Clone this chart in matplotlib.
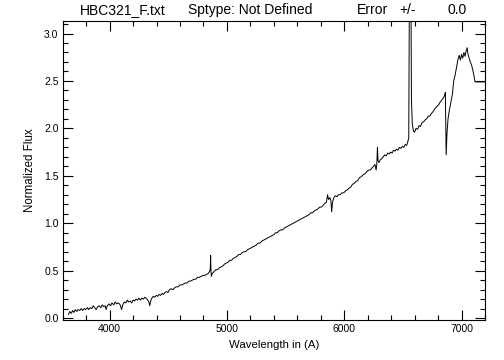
"""Normalized spectrum of HBC321, drawn in the style of an IDL plot."""

import matplotlib

matplotlib.use("Agg")
import matplotlib.pyplot as plt
from matplotlib.ticker import MultipleLocator

# ---------------------------------------------------------------------------
# Data, split into three spectral segments
# ---------------------------------------------------------------------------

blue_wl = [
    3650, 3660, 3672, 3685, 3695, 3708, 3720, 3732, 3745, 3758,
    3770, 3783, 3796, 3810, 3822, 3835, 3848, 3860, 3872, 3885,
    3898, 3910, 3925, 3938, 3950, 3962, 3970, 3980, 3995, 4008,
    4020, 4035, 4048, 4060, 4075, 4090, 4102, 4112, 4125, 4138,
    4150, 4162, 4175, 4188, 4200, 4212, 4225, 4238, 4250, 4262,
    4275, 4288, 4300, 4312, 4325, 4335, 4342, 4350, 4360, 4372,
    4385, 4398, 4410, 4422, 4435, 4448, 4460, 4472, 4485, 4498,
    4510, 4525, 4540, 4555, 4570, 4585, 4600, 4615, 4630, 4645,
    4660, 4675, 4690, 4705, 4720, 4735, 4750, 4765, 4780, 4795,
    4810, 4825, 4840, 4852, 4858, 4861, 4864, 4867, 4875,
]
blue_flux = [
    0.04, 0.07, 0.05, 0.08, 0.06, 0.09, 0.07, 0.09, 0.08, 0.10,
    0.08, 0.10, 0.09, 0.11, 0.09, 0.11, 0.10, 0.13, 0.11, 0.09,
    0.12, 0.13, 0.11, 0.14, 0.12, 0.13, 0.09, 0.13, 0.15, 0.13,
    0.16, 0.14, 0.17, 0.15, 0.16, 0.14, 0.09, 0.14, 0.17, 0.16,
    0.19, 0.17, 0.18, 0.16, 0.19, 0.18, 0.20, 0.19, 0.21, 0.19,
    0.21, 0.20, 0.22, 0.21, 0.19, 0.17, 0.13, 0.18, 0.21, 0.23,
    0.22, 0.24, 0.23, 0.25, 0.24, 0.26, 0.25, 0.27, 0.28, 0.27,
    0.30, 0.31, 0.30, 0.32, 0.33, 0.33, 0.35, 0.35, 0.36, 0.37,
    0.37, 0.39, 0.39, 0.40, 0.41, 0.41, 0.43, 0.43, 0.44, 0.45,
    0.45, 0.46, 0.47, 0.49, 0.52, 0.66, 0.50, 0.44, 0.47,
]

mid_wl = [
    4890, 4905, 4920, 4935, 4950, 4965, 4980, 4995, 5010, 5025,
    5040, 5055, 5070, 5085, 5100, 5115, 5130, 5145, 5160, 5175,
    5190, 5205, 5220, 5235, 5250, 5265, 5280, 5295, 5310, 5325,
    5340, 5355, 5370, 5385, 5400, 5415, 5430, 5445, 5460, 5475,
    5490, 5505, 5520, 5535, 5550, 5565, 5580, 5595, 5610, 5625,
    5640, 5655, 5670, 5685, 5700, 5715, 5730, 5745, 5760, 5775,
    5790, 5805, 5820, 5835, 5848, 5858, 5866, 5878, 5886, 5893,
    5900, 5912, 5925, 5938, 5950, 5965, 5980, 5995, 6010, 6025,
    6040, 6055, 6070, 6085, 6100, 6115, 6130, 6145, 6160, 6175,
    6190, 6205, 6220, 6235, 6250, 6262, 6272, 6278, 6283, 6288,
]
mid_flux = [
    0.49, 0.51, 0.51, 0.53, 0.54, 0.55, 0.57, 0.58, 0.59, 0.61,
    0.61, 0.63, 0.64, 0.65, 0.67, 0.67, 0.69, 0.70, 0.70, 0.72,
    0.73, 0.74, 0.75, 0.76, 0.77, 0.79, 0.79, 0.81, 0.82, 0.83,
    0.84, 0.85, 0.86, 0.87, 0.88, 0.90, 0.90, 0.92, 0.93, 0.93,
    0.95, 0.96, 0.97, 0.98, 0.99, 1.00, 1.01, 1.02, 1.03, 1.04,
    1.05, 1.06, 1.07, 1.08, 1.09, 1.11, 1.11, 1.13, 1.14, 1.15,
    1.17, 1.17, 1.19, 1.21, 1.22, 1.30, 1.25, 1.27, 1.24, 1.12,
    1.22, 1.27, 1.29, 1.28, 1.30, 1.30, 1.32, 1.32, 1.34, 1.35,
    1.37, 1.38, 1.41, 1.42, 1.44, 1.45, 1.48, 1.49, 1.51, 1.52,
    1.54, 1.56, 1.56, 1.58, 1.60, 1.62, 1.56, 1.63, 1.80, 1.66,
]

red_wl = [
    6295, 6308, 6320, 6333, 6345, 6358, 6370, 6383, 6395, 6408,
    6420, 6433, 6445, 6458, 6470, 6483, 6495, 6508, 6520, 6532,
    6542, 6550, 6556, 6562, 6568, 6573, 6580, 6590, 6600, 6612,
    6625, 6638, 6650, 6663, 6677, 6690, 6703, 6716, 6730, 6745,
    6760, 6775, 6790, 6805, 6819, 6832, 6845, 6856, 6862, 6869,
    6876, 6885, 6897, 6910, 6922, 6933, 6945, 6958, 6970, 6980,
    6990, 7000, 7010, 7020, 7030, 7040, 7048, 7055, 7065, 7075,
    7085, 7095, 7105, 7115, 7200,
]
red_flux = [
    1.64, 1.67, 1.68, 1.70, 1.72, 1.71, 1.74, 1.73, 1.75, 1.74,
    1.77, 1.76, 1.78, 1.77, 1.80, 1.79, 1.81, 1.80, 1.83, 1.82,
    1.86, 1.90, 3.60, 4.00, 3.70, 2.30, 2.05, 1.97, 1.96, 2.00,
    1.99, 2.03, 2.02, 2.06, 2.07, 2.09, 2.10, 2.13, 2.13, 2.16,
    2.18, 2.21, 2.23, 2.25, 2.28, 2.30, 2.32, 2.35, 2.38, 1.72,
    1.95, 2.10, 2.20, 2.28, 2.36, 2.50, 2.56, 2.65, 2.73, 2.77,
    2.72, 2.78, 2.74, 2.80, 2.76, 2.82, 2.85, 2.78, 2.74, 2.70,
    2.67, 2.62, 2.56, 2.49, 2.49,
]

title_parts = ["HBC321_F.txt", "Sptype: Not Defined", "Error", "+/-", "0.0"]
title_x_px = [80, 188, 357, 399, 447]
x_ticks = [4000, 5000, 6000, 7000]
y_ticks = [0.0, 0.5, 1.0, 1.5, 2.0, 2.5, 3.0]

wavelength = blue_wl + mid_wl + red_wl
flux = blue_flux + mid_flux + red_flux

# ---------------------------------------------------------------------------
# Figure
# ---------------------------------------------------------------------------

plt.rcParams["font.family"] = ["Liberation Sans", "DejaVu Sans"]

fig = plt.figure(figsize=(5.04, 3.6), dpi=100)
ax = fig.add_axes([0.1244, 0.1111, 0.8379, 0.8314])

ax.plot(wavelength, flux, color="black", linewidth=0.7)

ax.set_xlim(3600, 7200)
ax.set_ylim(-0.02, 3.135)
ax.set_xticks(x_ticks)
ax.set_yticks(y_ticks)
ax.set_yticklabels([f"{v:.1f}" for v in y_ticks])
ax.xaxis.set_minor_locator(MultipleLocator(200))
ax.yaxis.set_minor_locator(MultipleLocator(0.1))

ax.tick_params(which="both", direction="in", top=True, right=True,
               labelsize=7.5, width=0.8, colors="black", pad=3)
ax.tick_params(which="major", length=7)
ax.tick_params(which="minor", length=3.5)
for spine in ax.spines.values():
    spine.set_linewidth(0.8)

ax.set_xlabel("Wavelength in (A)", fontsize=8.2, labelpad=4)
ax.set_ylabel("Normalized Flux", fontsize=8.3, labelpad=6)

# Title is laid out as separate fields, like the IDL header line
for text, x_px in zip(title_parts, title_x_px):
    fig.text(x_px / 504, 1 - 10 / 360, text, fontsize=10, va="center", ha="left")

fig.savefig("out.png", dpi=100)
